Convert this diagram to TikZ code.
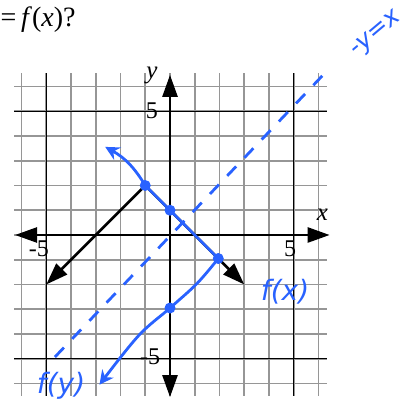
\documentclass[tikz,border=0pt]{standalone}
\usepackage{fontspec}
\setmainfont{Liberation Serif}
\newfontfamily\handfont{DejaVu Sans}
\usetikzlibrary{arrows.meta}
\definecolor{penblue}{RGB}{41,98,255}
\definecolor{gridgray}{RGB}{150,150,150}
\tikzset{
  gridline/.style={gridgray, line width=1.8pt},
  darkline/.style={black, line width=1.4pt},
  axisline/.style={black, line width=2.6pt, -{Triangle[length=22pt,width=15pt]}},
  graphline/.style={black, line width=2.6pt, -{Triangle[length=22pt,width=15pt]}},
  penline/.style={penblue, line width=2.8pt, line cap=round, line join=round},
  pendot/.style={circle, fill=penblue, inner sep=0pt, minimum size=11pt},
  ticklabel/.style={font=\fontsize{24}{24}\selectfont, inner sep=0pt},
  handlabel/.style={penblue, font=\handfont\itshape\fontsize{28}{28}\selectfont, inner sep=0pt}
}
\begin{document}
\begin{tikzpicture}[x=24.75pt, y=24.75pt]
\useasboundingbox (-6.869,-7.152) rectangle (9.818,9.495);
% grid
\foreach \i in {-6,...,6} {
  \draw[gridline] (\i,-6.5) -- (\i,6.55);
  \draw[gridline] (-6.3,\i) -- (6.36,\i);
}
\foreach \i in {-5,5} {
  \draw[darkline] (\i,-6.5) -- (\i,6.55);
  \draw[darkline] (-6.3,\i) -- (6.36,\i);
}
% axes
\coordinate (xl) at (-6.26,0);
\coordinate (xr) at (6.45,0);
\coordinate (yb) at (0,-6.55);
\coordinate (yt) at (0,6.47);
\draw[axisline] (0,0) -- (xr);
\draw[axisline] (0,0) -- (xl);
\draw[axisline] (0,0) -- (yt);
\draw[axisline] (0,0) -- (yb);
% labels
\node[ticklabel, font=\itshape\fontsize{25}{25}\selectfont] (ylab) at (-0.73,6.45) {y};
\node[ticklabel] (y5) at (-0.73,5.0) {5};
\node[ticklabel, font=\itshape\fontsize{25}{25}\selectfont] (xlab) at (6.16,0.8) {x};
\node[ticklabel] (xm5) at (-5.3,-0.55) {-5};
\node[ticklabel] (x5) at (4.85,-0.55) {5};
\node[ticklabel] (ym5) at (-0.8,-4.93) {-5};
% black graph
\coordinate (v) at (-1,2);
\coordinate (bl) at (-5,-2);
\coordinate (br) at (3,-2);
\draw[graphline] (v) -- (bl);
\draw[graphline] (v) -- (br);
% dashed y=x line
\coordinate (d1) at (-4.65,-4.93);
\coordinate (d2) at (6.18,6.46);
\draw[penline, line cap=butt, dash pattern=on 13pt off 12pt] (d1) -- (d2);
% blue curve
\node[pendot] (p1) at (-1,2) {};
\node[pendot] (p2) at (0,1) {};
\node[pendot] (p3) at (1.95,-0.95) {};
\node[pendot] (p4) at (0,-2.95) {};
\coordinate (t1) at (-2.62,3.56);
\coordinate (t2) at (-2.85,-6.05);
\draw[penline, {Stealth[length=14pt,width=14pt]}-] (t1) to[bend left=15] (p1.center);
\draw[penline] (p1.center) -- (p2.center) -- (p3.center);
\draw[penline, -{Stealth[length=14pt,width=14pt]}] plot[smooth, tension=0.6] coordinates {(1.95,-0.95) (1.1,-1.95) (0,-2.95) (-1.3,-4.1) (-2.85,-6.05)};
% handwritten labels
\node[handlabel] (fx) at (4.65,-2.3) {f(x)};
\node[handlabel] (fy) at (-4.4,-6.1) {f(y)};
\node[handlabel, rotate=40, font=\handfont\itshape\fontsize{25}{25}\selectfont] (yx) at (8.35,8.1) {-y=x};
% top text
\node[anchor=west, inner sep=0pt, font=\fontsize{28}{28}\selectfont] (q) at (-6.85,8.72) {=\,\textit{f}(\textit{x})?};
\end{tikzpicture}
\end{document}
